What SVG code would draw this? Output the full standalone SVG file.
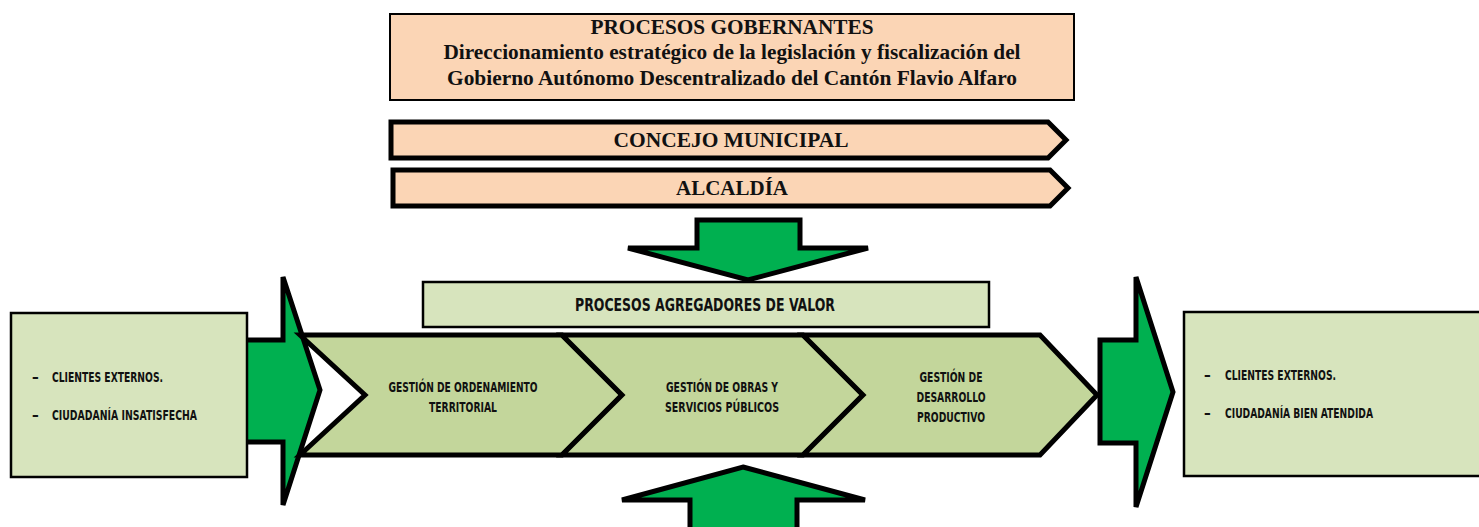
<svg xmlns="http://www.w3.org/2000/svg" width="1479" height="527" viewBox="0 0 1479 527">
<style>
.peach{fill:#FBD5B5;stroke:#000}
.lg{fill:#D7E4BD;stroke:#000;stroke-width:2.5}
.chev{fill:#C3D69B;stroke:#000;stroke-width:5;stroke-linejoin:miter}
.arr{fill:#00B050;stroke:#000;stroke-width:5;stroke-linejoin:miter}
.ser{font-family:"Liberation Serif","Times New Roman",serif;font-weight:bold;fill:#111;text-anchor:middle}
.cond{font-family:"DejaVu Sans",sans-serif;font-stretch:condensed;font-weight:bold;fill:#111}
.mid{text-anchor:middle}
</style>
<rect width="1479" height="527" fill="#fff"/>
<g id="connectors">
<polygon class="arr" points="697,220 800,220 800,248 868,248 748,280 628,248 697,248"/>
<polygon class="arr" points="743,467 865,500 797,500 797,532 690,532 690,500 622,500"/>
<polygon class="arr" points="245,340 283,340 283,277 320,390 283,505 283,442 245,442"/>
<polygon class="arr" points="1100,340 1136,340 1136,277 1173,392 1136,507 1136,443 1100,443"/>
</g>
<g id="gobernantes">
<rect class="peach" x="390" y="14" width="684" height="86" stroke-width="2"/>
<text class="ser" x="732" y="34" font-size="20" textLength="283" lengthAdjust="spacingAndGlyphs">PROCESOS GOBERNANTES</text>
<text class="ser" x="732" y="59" font-size="20" textLength="577" lengthAdjust="spacingAndGlyphs">Direccionamiento estratégico de la legislación y fiscalización del</text>
<text class="ser" x="732" y="85" font-size="20" textLength="570" lengthAdjust="spacingAndGlyphs">Gobierno Autónomo Descentralizado del Cantón Flavio Alfaro</text>
</g>
<g id="concejo">
<polygon class="peach" stroke-width="5" points="391,122 1048,122 1066,140 1048,158 391,158"/>
<text class="ser" x="731" y="147" font-size="20" textLength="235" lengthAdjust="spacingAndGlyphs">CONCEJO MUNICIPAL</text>
</g>
<g id="alcaldia">
<polygon class="peach" stroke-width="5" points="393,170 1050,170 1068,188 1050,206 393,206"/>
<text class="ser" x="732" y="195" font-size="20" textLength="112" lengthAdjust="spacingAndGlyphs">ALCALDÍA</text>
</g>
<g id="agregadores">
<rect class="lg" x="423" y="282" width="566" height="45"/>
<text class="cond mid" x="705" y="311" font-size="18" textLength="260" lengthAdjust="spacingAndGlyphs">PROCESOS AGREGADORES DE VALOR</text>
</g>
<g id="ordenamiento">
<polygon class="chev" points="300,335 562,335 622,395 562,455 300,455 365,395"/>
<text class="cond mid" x="463" y="392" font-size="14.5" textLength="149" lengthAdjust="spacingAndGlyphs">GESTIÓN DE ORDENAMIENTO</text>
<text class="cond mid" x="463" y="412" font-size="14.5" textLength="68" lengthAdjust="spacingAndGlyphs">TERRITORIAL</text>
</g>
<g id="obras">
<polygon class="chev" points="562,335 803,335 863,395 803,455 562,455 622,395"/>
<text class="cond mid" x="722" y="392" font-size="14.5" textLength="112" lengthAdjust="spacingAndGlyphs">GESTIÓN DE OBRAS Y</text>
<text class="cond mid" x="722" y="412" font-size="14.5" textLength="114" lengthAdjust="spacingAndGlyphs">SERVICIOS PÚBLICOS</text>
</g>
<g id="desarrollo">
<polygon class="chev" points="803,335 1040,335 1097,395 1040,455 803,455 863,395"/>
<text class="cond mid" x="951" y="382" font-size="14.5" textLength="63" lengthAdjust="spacingAndGlyphs">GESTIÓN DE</text>
<text class="cond mid" x="951" y="402" font-size="14.5" textLength="69" lengthAdjust="spacingAndGlyphs">DESARROLLO</text>
<text class="cond mid" x="951" y="422" font-size="14.5" textLength="68" lengthAdjust="spacingAndGlyphs">PRODUCTIVO</text>
</g>
<g id="entrada">
<rect class="lg" x="11" y="313" width="236" height="164"/>
<text class="cond" x="32" y="382" font-size="15">–</text>
<text class="cond" x="52" y="382" font-size="14.5" textLength="111" lengthAdjust="spacingAndGlyphs">CLIENTES EXTERNOS.</text>
<text class="cond" x="32" y="420" font-size="15">–</text>
<text class="cond" x="52" y="420" font-size="14.5" textLength="145" lengthAdjust="spacingAndGlyphs">CIUDADANÍA INSATISFECHA</text>
</g>
<g id="salida">
<rect class="lg" x="1184" y="312" width="300" height="164"/>
<text class="cond" x="1204" y="380" font-size="15">–</text>
<text class="cond" x="1225" y="380" font-size="14.5" textLength="111" lengthAdjust="spacingAndGlyphs">CLIENTES EXTERNOS.</text>
<text class="cond" x="1204" y="418" font-size="15">–</text>
<text class="cond" x="1225" y="418" font-size="14.5" textLength="148" lengthAdjust="spacingAndGlyphs">CIUDADANÍA BIEN ATENDIDA</text>
</g>
</svg>
